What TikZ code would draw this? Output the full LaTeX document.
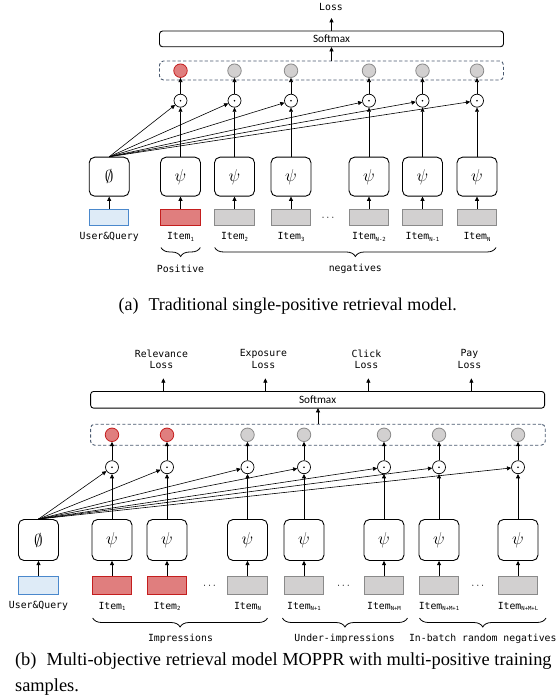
\documentclass[tikz,border=0pt]{standalone}
\usepackage{fontspec}
\setmainfont{Liberation Serif}
\newfontfamily\monof{DejaVu Sans Mono}
\newfontfamily\sansf{Carlito}
\usetikzlibrary{arrows.meta,decorations.pathreplacing}
\definecolor{ublueF}{HTML}{DEEBF7}
\definecolor{ublueD}{HTML}{4A88CC}
\definecolor{uredF}{HTML}{E07E7E}
\definecolor{uredD}{HTML}{C41E1E}
\definecolor{ugrayF}{HTML}{D2D0D0}
\definecolor{ugrayD}{HTML}{8A8A8A}
\definecolor{dashC}{HTML}{4A5A70}
\newcommand\sbx[1]{\raisebox{-1.3pt}{\fontsize{5.6}{6}\selectfont #1}}
\tikzset{
  encbox/.style={draw, rounded corners=5.5pt, minimum width=40pt, minimum height=39pt, inner sep=0pt, line width=0.9pt, font=\fontsize{17}{17}\selectfont},
  inp/.style={rectangle, minimum width=39.5pt, minimum height=16.5pt, inner sep=0pt, line width=1pt},
  inblue/.style={inp, fill=ublueF, draw=ublueD},
  inred/.style={inp, fill=uredF, draw=uredD},
  ingray/.style={inp, fill=ugrayF, draw=ugrayD},
  dotc/.style={circle, draw, minimum size=13pt, inner sep=0pt, line width=0.7pt},
  outred/.style={circle, minimum size=13.5pt, inner sep=0pt, fill=uredF, draw=uredD, line width=0.8pt},
  outgray/.style={circle, minimum size=13.5pt, inner sep=0pt, fill=ugrayF, draw=ugrayD, line width=0.8pt},
  arr/.style={-{Triangle[length=4.2pt,width=4pt]}, line width=0.6pt},
  lbl/.style={font=\monof\fontsize{9.8}{11.5}\selectfont, inner sep=0pt, align=center},
  smx/.style={draw, rounded corners=3pt, line width=0.9pt, inner sep=0pt, font=\sansf\fontsize{11.2}{12}\selectfont},
  dashbox/.style={draw=dashC, dashed, dash pattern=on 3.2pt off 2.2pt, rounded corners=4pt, line width=0.9pt},
  brc/.style={decorate, decoration={brace, mirror, amplitude=9pt}, line width=0.8pt},
  dotsl/.style={font=\sansf\fontsize{11}{11}\selectfont, inner sep=0pt},
  captxt/.style={font=\fontsize{18}{20}\selectfont, inner sep=0pt}
}
\begin{document}
\begin{tikzpicture}[x=1pt,y=-1pt]
\useasboundingbox (0,0) rectangle (557,700);
\fill[white] (0,0) rectangle (557,700);

% ================= (a) =================
\node[lbl] (aloss) at (331,7.5) {Loss};
\node[smx, minimum width=344pt, minimum height=15.7pt] (asmx) at (331.5,38.9) {Softmax};
\node[dashbox, minimum width=344pt, minimum height=19pt, inner sep=0pt] (adash) at (331.5,70.5) {};
\draw[arr] (asmx.north) -- ++(0,-12.5) coordinate (alosstip);
\draw[arr] (adash.north -| asmx.south) -- (asmx.south);

\node[encbox] (aphi) at (109.2,176.7) {$\emptyset$};
\node[inblue] (aiphi) at (109.2,217.7) {};
\node[lbl] (alphi) at (109.2,237) {User\&Query};
\draw[arr] (aiphi) -- (aphi);

\foreach \i/\x/\ist/\ost/\lab in {
  1/180.5/inred/outred/{Item\sbx{1}},
  2/234.5/ingray/outgray/{Item\sbx{2}},
  3/291/ingray/outgray/{Item\sbx{3}},
  4/369/ingray/outgray/{Item\sbx{N-2}},
  5/422.5/ingray/outgray/{Item\sbx{N-1}},
  6/477/ingray/outgray/{Item\sbx{N}}}{
  \node[encbox] (ab\i) at (\x,176.7) {$\psi$};
  \node[\ist] (ai\i) at (\x,217.7) {};
  \node[lbl] (al\i) at (\x,237) {\lab};
  \node[dotc] (ad\i) at (\x,100.7) {};
  \fill (ad\i.center) circle (0.9pt);
  \node[\ost] (ao\i) at (\x,70.7) {};
  \draw[arr] (ai\i) -- (ab\i);
  \draw[arr] (ab\i) -- (ad\i);
  \draw[arr] (ad\i) -- (ao\i);
  \draw[arr] (aphi.north) -- (ad\i);
}
\node[dotsl] (adots) at (328,218) {$\cdots$};

\draw[brc] (161,247.5) -- (200.3,247.5);
\draw[brc] (214.7,247.5) -- (496,247.5);
\node[lbl] (apos) at (180.5,268.5) {Positive};
\node[lbl] (aneg) at (355.3,268.5) {negatives};

\node[captxt] (capa) at (287.7,306.5) {(a)\hspace{0.55em}Traditional single-positive retrieval model.};

% ================= (b) =================
\node[smx, minimum width=454pt, minimum height=16.7pt] (bsmx) at (317.6,399.8) {Softmax};
\node[dashbox, minimum width=454.7pt, minimum height=21pt, inner sep=0pt] (bdash) at (317.9,434.7) {};
\draw[arr] (bdash.north -| 318,0) -- (318,408.2);

\foreach \k/\x/\txt in {1/163.4/{Relevance\\Loss}, 2/265.4/{Exposure\\Loss}, 3/368.4/{Click\\Loss}, 4/471.4/{Pay\\Loss}}{
  \node[lbl] (bloss\k) at (\x-2,359.2) {\txt};
  \draw[arr] (\x,391.5) -- (\x,378.4);
}

\node[encbox, minimum height=41pt] (bphi) at (38.5,540) {$\emptyset$};
\node[inblue, minimum height=17.4pt] (biphi) at (38.5,585.4) {};
\node[lbl] (blphi) at (38.5,606.3) {User\&Query};
\draw[arr] (biphi) -- (bphi);

\foreach \i/\x/\ist/\ost/\lab in {
  1/112/inred/outred/{Item\sbx{1}},
  2/167/inred/outred/{Item\sbx{2}},
  3/247.5/ingray/outgray/{Item\sbx{N}},
  4/304/ingray/outgray/{Item\sbx{N+1}},
  5/384/ingray/outgray/{Item\sbx{N+M}},
  6/439/ingray/outgray/{Item\sbx{N+M+1}},
  7/518/ingray/outgray/{Item\sbx{N+M+L}}}{
  \node[encbox, minimum height=41pt] (bb\i) at (\x,540) {$\psi$};
  \node[\ist, minimum height=17.4pt] (bi\i) at (\x,585.4) {};
  \node[lbl] (bl\i) at (\x,606.3) {\lab};
  \node[dotc] (bd\i) at (\x,467.2) {};
  \fill (bd\i.center) circle (0.9pt);
  \node[\ost] (bo\i) at (\x,434.8) {};
  \draw[arr] (bi\i) -- (bb\i);
  \draw[arr] (bb\i) -- (bd\i);
  \draw[arr] (bd\i) -- (bo\i);
  \draw[arr] (bphi.north) -- (bd\i);
}
\node[dotsl] (bdots1) at (209.6,586) {$\cdots$};
\node[dotsl] (bdots2) at (343.5,586) {$\cdots$};
\node[dotsl] (bdots3) at (477.8,586) {$\cdots$};

\draw[brc] (92.7,618) -- (267.5,618);
\draw[brc] (282.4,618) -- (407.5,618);
\draw[brc] (419.5,618) -- (546,618);
\node[lbl] (bimp) at (180.5,638.5) {Impressions};
\node[lbl] (bund) at (344.6,638.5) {Under-impressions};
\node[lbl] (binb) at (482.8,638.5) {In-batch random negatives};

\node[captxt, anchor=west, font=\fontsize{18.4}{20}\selectfont] (capb1) at (14.9,661) {(b)\hspace{0.55em}Multi-objective retrieval model MOPPR with multi-positive training};
\node[captxt, anchor=west, font=\fontsize{18.4}{20}\selectfont] (capb2) at (14.9,687.5) {samples.};
\end{tikzpicture}
\end{document}
